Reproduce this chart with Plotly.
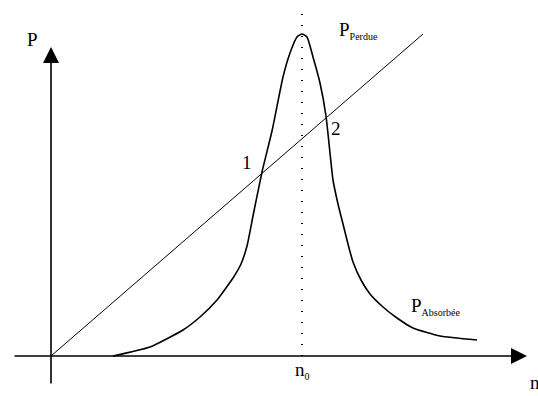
import plotly.graph_objects as go

# Absorbed power curve (P_Absorbée) (arbitrary units, origin at axes crossing)
absorbed_x = [62, 99, 132, 149, 166, 182, 190, 196, 202, 211, 221, 232, 239, 246, 251,
              256, 262, 269, 275, 282, 287, 292, 297, 302, 310, 319, 332, 346, 362, 389, 426]
absorbed_y = [0, 9, 26, 39, 56, 78, 92, 110, 140, 184, 225, 279, 303, 319, 322,
              319, 299, 273, 240, 176, 152, 132, 112, 94, 76, 62, 49, 38, 28, 20, 16]

# Lost power (P_Perdue): straight line from origin
lost_x = [0, 372]
lost_y = [0, 322]

# Resonance position
n0 = 251
n0_top = 343

# Axis extents
x_axis = [-38, 476]
y_axis = [-29, 309]

labels_font = "Liberation Serif"

fig = go.Figure()

fig.add_trace(go.Scatter(x=lost_x, y=lost_y, mode="lines",
                         line=dict(color="black", width=1), hoverinfo="skip"))
fig.add_trace(go.Scatter(x=absorbed_x, y=absorbed_y, mode="lines",
                         line=dict(color="black", width=1.6, shape="spline", smoothing=0.5),
                         hoverinfo="skip"))
fig.add_trace(go.Scatter(x=[n0, n0], y=[0, n0_top], mode="lines",
                         line=dict(color="black", width=2, dash="1px,10px"), hoverinfo="skip"))

# Axes with arrowheads
fig.add_annotation(x=x_axis[1], y=0, ax=x_axis[0], ay=0, xref="x", yref="y", axref="x", ayref="y",
                   showarrow=True, arrowhead=2, arrowsize=2, arrowwidth=1.6, arrowcolor="black", text="")
fig.add_annotation(x=0, y=y_axis[1], ax=0, ay=y_axis[0], xref="x", yref="y", axref="x", ayref="y",
                   showarrow=True, arrowhead=2, arrowsize=2, arrowwidth=1.6, arrowcolor="black", text="")

def label(x, y, text, size=19, xanchor="center", yanchor="middle"):
    fig.add_annotation(x=x, y=y, xref="x", yref="y", text=text, showarrow=False,
                       xanchor=xanchor, yanchor=yanchor,
                       font=dict(family=labels_font, size=size, color="black"))

sub = "<sub><span style='font-size:10px'>{}</span></sub>"
label(-19, 317, "P")
label(286, 326, "P" + sub.format("Perdue"), xanchor="left")
label(358, 50, "P" + sub.format("Absorbée"), xanchor="left")
label(n0, -14, "n" + sub.format("0"))
label(196, 194, "1")
label(285, 228, "2")
label(477, -26, "n", xanchor="left")

fig.update_layout(
    width=538, height=396,
    margin=dict(l=0, r=0, t=0, b=0),
    paper_bgcolor="white", plot_bgcolor="white",
    showlegend=False,
    font=dict(family=labels_font),
    xaxis=dict(range=[-51, 487], visible=False, fixedrange=True),
    yaxis=dict(range=[-40, 356], visible=False, fixedrange=True),
)

fig.write_html("out.html", config={"displayModeBar": False},
               post_script="document.body.style.margin='0';document.body.style.overflow='hidden';")
